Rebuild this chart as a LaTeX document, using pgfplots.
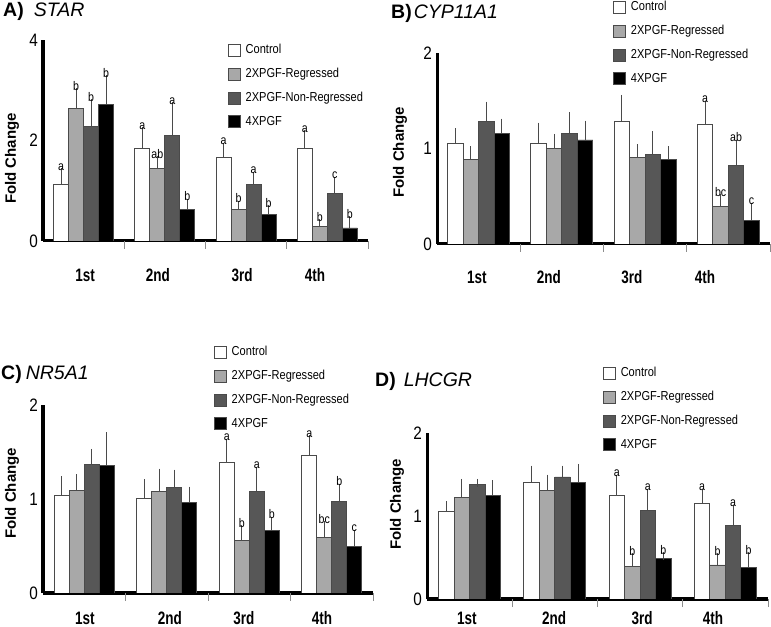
\documentclass[border=0pt]{standalone}
\usepackage{fontspec}
\setmainfont{Liberation Sans}
\newfontfamily\nf{Liberation Sans}[FakeStretch=0.85]
\newfontfamily\xf{Liberation Sans}[FakeStretch=0.75]
\usepackage{pgfplots}
\usepackage{pgfplotstable}
\pgfplotsset{compat=1.18}
\definecolor{regc}{HTML}{A8A8A8}
\definecolor{nonc}{HTML}{575757}
\definecolor{edgec}{HTML}{4A4A4A}
\definecolor{sepc}{HTML}{8C8C8C}

% columns: x, Control, err, Regressed, err, Non-Regressed, err, 4XPGF, err
\pgfplotstableread{
x C Ce R Re N Ne K Ke
0 1.13 0.24 2.64 0.32 2.28 0.46 2.72 0.50
1 1.85 0.34 1.44 0.17 2.10 0.58 0.62 0.14
2 1.66 0.22 0.62 0.10 1.13 0.17 0.52 0.12
3 1.85 0.28 0.29 0.07 0.94 0.26 0.26 0.15
}\tabA
\pgfplotstableread{
x C Ce R Re N Ne K Ke
0 1.05 0.12 0.89 0.09 1.28 0.17 1.16 0.11
1 1.05 0.18 1.00 0.11 1.16 0.18 1.09 0.16
2 1.28 0.24 0.91 0.09 0.94 0.20 0.89 0.09
3 1.25 0.21 0.39 0.09 0.82 0.23 0.25 0.14
}\tabB
\pgfplotstableread{
x C Ce R Re N Ne K Ke
0 1.04 0.16 1.09 0.13 1.37 0.12 1.36 0.31
1 1.01 0.16 1.08 0.20 1.12 0.15 0.96 0.13
2 1.39 0.21 0.56 0.12 1.08 0.22 0.67 0.10
3 1.46 0.18 0.59 0.13 0.97 0.15 0.50 0.13
}\tabC
\pgfplotstableread{
x C Ce R Re N Ne K Ke
0 1.06 0.07 1.22 0.18 1.38 0.02 1.25 0.13
1 1.40 0.16 1.31 0.14 1.47 0.09 1.40 0.18
2 1.25 0.20 0.39 0.11 1.07 0.21 0.49 0.03
3 1.15 0.13 0.41 0.09 0.89 0.20 0.38 0.14
}\tabD

\tikzset{lbl/.style={anchor=south, inner sep=1.5bp, font=\nf\fontsize{12.5bp}{12.5bp}\selectfont}}
\pgfplotsset{
  errs/.style={/pgfplots/error bars/y dir=plus, /pgfplots/error bars/y explicit,
    /pgfplots/error bars/error bar style={draw=edgec, line width=1bp},
    /pgfplots/error bars/error mark options={draw=edgec, line width=1bp, mark size=4bp}},
  sC/.style={fill=white, draw=edgec, line width=0.8bp},
  sR/.style={fill=regc, draw=edgec, line width=0.8bp},
  sN/.style={fill=nonc, draw=edgec, line width=0.8bp},
  sK/.style={fill=black, draw=edgec, line width=0.8bp},
  panel/.style={
    scale only axis, anchor=south west, ybar=0pt,
    ymin=0, xmin=-0.5, xmax=3.5,
    axis x line*=bottom, axis y line*=left,
    axis line style={line width=3bp, black, -},
    major tick length=0pt, tick align=outside,
    extra x ticks={0.5,1.5,2.5,3.5}, extra x tick labels={},
    extra x tick style={major tick length=8bp, tick style={draw=sepc, line width=0.8bp}},
    xticklabel style={font=\xf\bfseries\fontsize{18bp}{18bp}\selectfont, anchor=center, inner sep=0pt},
    yticklabel style={font=\nf\fontsize{18bp}{18bp}\selectfont, anchor=east, inner sep=0pt, xshift=-5bp},
    /pgf/number format/assume math mode=true,
    legend style={draw=none, fill=none, anchor=north west, inner sep=0pt, outer sep=0pt,
      row sep=11bp, column sep=5bp, font=\nf\fontsize{13bp}{13bp}\selectfont,
      nodes={inner sep=0pt, anchor=west, text height=9.5bp, text depth=2.5bp}},
    legend cell align=left,
    legend image code/.code={\draw[##1, line width=0.8bp] (0bp,-6bp) rectangle (12bp,6bp);},
    every axis y label/.style={rotate=90, anchor=center, font=\bfseries\fontsize{15bp}{15bp}\selectfont},
    ylabel={Fold Change},
  },
}

\begin{document}
\begin{tikzpicture}
\path[use as bounding box] (0,0) rectangle (771bp,627bp);

% ---------- A) STAR ----------
\begin{axis}[panel, at={(43bp,386bp)}, width=325bp, height=201bp,
  ymax=4, ytick={0,2,4}, bar width=15bp,
  xtick={0.017,0.915,1.95,2.848}, xticklabels={1st,2nd,3rd,4th},
  xticklabel style={yshift=-34bp},
  every axis y label/.append style={at={([xshift=-31bp]axis description cs:0,0.41)}},
  legend style={at={(axis description cs:0.569,0.98)}}]
\addplot[sC, errs] table[x=x, y=C, y error=Ce] {\tabA};
\addplot[sR, errs] table[x=x, y=R, y error=Re] {\tabA};
\addplot[sN, errs] table[x=x, y=N, y error=Ne] {\tabA};
\addplot[sK, errs] table[x=x, y=K, y error=Ke] {\tabA};
\legend{Control,2XPGF-Regressed,2XPGF-Non-Regressed,4XPGF}
\node[lbl] at ([xshift=-22.5bp]axis cs:0,1.37) {a};
\node[lbl] at ([xshift=-7.5bp]axis cs:0,2.96) {b};
\node[lbl] at ([xshift=7.5bp]axis cs:0,2.74) {b};
\node[lbl] at ([xshift=22.5bp]axis cs:0,3.22) {b};
\node[lbl] at ([xshift=-22.5bp]axis cs:1,2.19) {a};
\node[lbl] at ([xshift=-7.5bp]axis cs:1,1.61) {ab};
\node[lbl] at ([xshift=7.5bp]axis cs:1,2.68) {a};
\node[lbl] at ([xshift=22.5bp]axis cs:1,0.76) {b};
\node[lbl] at ([xshift=-22.5bp]axis cs:2,1.88) {a};
\node[lbl] at ([xshift=-7.5bp]axis cs:2,0.72) {b};
\node[lbl] at ([xshift=7.5bp]axis cs:2,1.30) {a};
\node[lbl] at ([xshift=22.5bp]axis cs:2,0.64) {b};
\node[lbl] at ([xshift=-22.5bp]axis cs:3,2.13) {a};
\node[lbl] at ([xshift=-7.5bp]axis cs:3,0.36) {b};
\node[lbl] at ([xshift=7.5bp]axis cs:3,1.20) {c};
\node[lbl] at ([xshift=22.5bp]axis cs:3,0.41) {b};
\end{axis}

% ---------- B) CYP11A1 ----------
\begin{axis}[panel, at={(437bp,383bp)}, width=333bp, height=191bp,
  ymax=2, ytick={0,1,2}, bar width=15.5bp,
  xtick={-0.02,0.845,1.842,2.719}, xticklabels={1st,2nd,3rd,4th},
  xticklabel style={yshift=-33bp},
  every axis y label/.append style={at={([xshift=-37bp]axis description cs:0,0.48)}},
  legend style={at={(axis description cs:0.529,1.272)}}]
\addplot[sC, errs] table[x=x, y=C, y error=Ce] {\tabB};
\addplot[sR, errs] table[x=x, y=R, y error=Re] {\tabB};
\addplot[sN, errs] table[x=x, y=N, y error=Ne] {\tabB};
\addplot[sK, errs] table[x=x, y=K, y error=Ke] {\tabB};
\legend{Control,2XPGF-Regressed,2XPGF-Non-Regressed,4XPGF}
\node[lbl] at ([xshift=-23.25bp]axis cs:3,1.46) {a};
\node[lbl] at ([xshift=-7.75bp]axis cs:3,0.48) {bc};
\node[lbl] at ([xshift=7.75bp]axis cs:3,1.05) {ab};
\node[lbl] at ([xshift=23.25bp]axis cs:3,0.39) {c};
\end{axis}

% ---------- C) NR5A1 ----------
\begin{axis}[panel, at={(43bp,34bp)}, width=330bp, height=188bp,
  ymax=2, ytick={0,1,2}, bar width=15bp,
  xtick={0.009,1.039,1.936,2.882}, xticklabels={1st,2nd,3rd,4th},
  xticklabel style={yshift=-25bp},
  every axis y label/.append style={at={([xshift=-31bp]axis description cs:0,0.53)}},
  legend style={at={(axis description cs:0.518,1.314)}}]
\addplot[sC, errs] table[x=x, y=C, y error=Ce] {\tabC};
\addplot[sR, errs] table[x=x, y=R, y error=Re] {\tabC};
\addplot[sN, errs] table[x=x, y=N, y error=Ne] {\tabC};
\addplot[sK, errs] table[x=x, y=K, y error=Ke] {\tabC};
\legend{Control,2XPGF-Regressed,2XPGF-Non-Regressed,4XPGF}
\node[lbl] at ([xshift=-22.5bp]axis cs:2,1.60) {a};
\node[lbl] at ([xshift=-7.5bp]axis cs:2,0.68) {b};
\node[lbl] at ([xshift=7.5bp]axis cs:2,1.30) {a};
\node[lbl] at ([xshift=22.5bp]axis cs:2,0.77) {b};
\node[lbl] at ([xshift=-22.5bp]axis cs:3,1.64) {a};
\node[lbl] at ([xshift=-7.5bp]axis cs:3,0.72) {bc};
\node[lbl] at ([xshift=7.5bp]axis cs:3,1.12) {b};
\node[lbl] at ([xshift=22.5bp]axis cs:3,0.63) {c};
\end{axis}

% ---------- D) LHCGR ----------
\begin{axis}[panel, at={(427bp,28bp)}, width=341bp, height=166bp,
  ymax=2, ytick={0,1,2}, bar width=15.5bp,
  xtick={-0.031,0.99,2.022,2.855}, xticklabels={1st,2nd,3rd,4th},
  xticklabel style={yshift=-19bp},
  every axis y label/.append style={at={([xshift=-30bp]axis description cs:0,0.57)}},
  legend style={at={(axis description cs:0.516,1.398)}}]
\addplot[sC, errs] table[x=x, y=C, y error=Ce] {\tabD};
\addplot[sR, errs] table[x=x, y=R, y error=Re] {\tabD};
\addplot[sN, errs] table[x=x, y=N, y error=Ne] {\tabD};
\addplot[sK, errs] table[x=x, y=K, y error=Ke] {\tabD};
\legend{Control,2XPGF-Regressed,2XPGF-Non-Regressed,4XPGF}
\node[lbl] at ([xshift=-23.25bp]axis cs:2,1.45) {a};
\node[lbl] at ([xshift=-7.75bp]axis cs:2,0.50) {b};
\node[lbl] at ([xshift=7.75bp]axis cs:2,1.28) {a};
\node[lbl] at ([xshift=23.25bp]axis cs:2,0.52) {b};
\node[lbl] at ([xshift=-23.25bp]axis cs:3,1.28) {a};
\node[lbl] at ([xshift=-7.75bp]axis cs:3,0.50) {b};
\node[lbl] at ([xshift=7.75bp]axis cs:3,1.09) {a};
\node[lbl] at ([xshift=23.25bp]axis cs:3,0.52) {b};
\end{axis}

% ---------- panel titles ----------
\node[anchor=base west, inner sep=0pt] at (3bp,610bp)
  {\fontsize{19.5bp}{19.5bp}\selectfont\bfseries A)\hspace{10bp}\mdseries\itshape STAR};
\node[anchor=base west, inner sep=0pt] at (391bp,608bp)
  {\fontsize{19.5bp}{19.5bp}\selectfont\bfseries B)\hspace{2bp}\mdseries\itshape CYP11A1};
\node[anchor=base west, inner sep=0pt] at (1bp,247bp)
  {\fontsize{19.5bp}{19.5bp}\selectfont\bfseries C)\hspace{4bp}\mdseries\itshape NR5A1};
\node[anchor=base west, inner sep=0pt] at (375bp,240bp)
  {\fontsize{19.5bp}{19.5bp}\selectfont\bfseries D)\hspace{8bp}\mdseries\itshape LHCGR};
\end{tikzpicture}
\end{document}
